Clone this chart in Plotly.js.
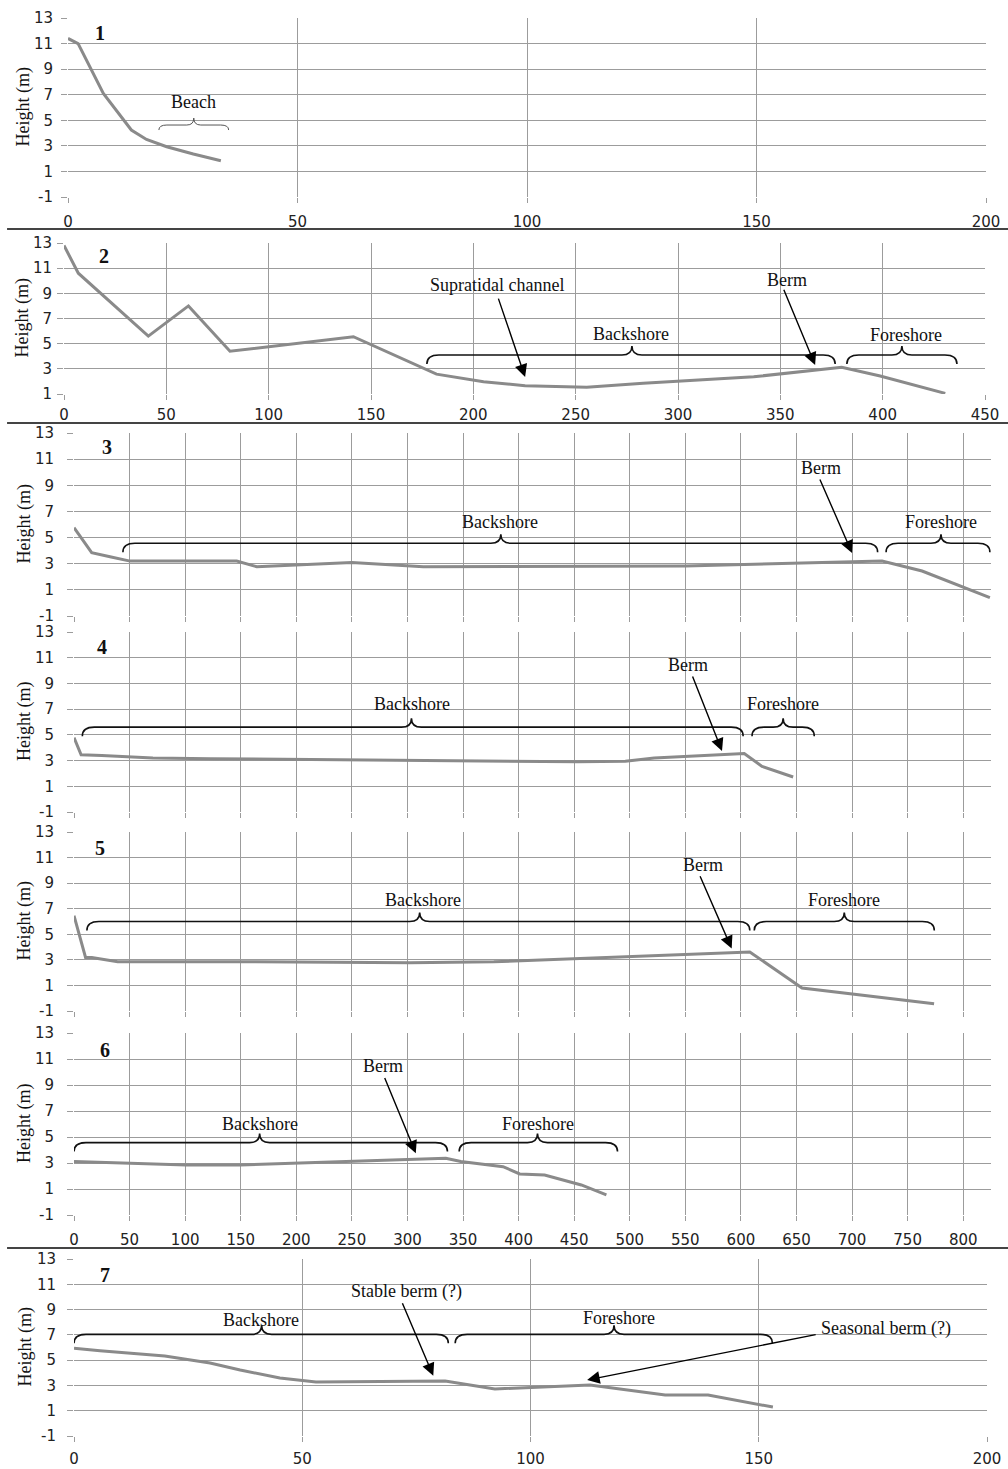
<!DOCTYPE html>
<html><head><meta charset="utf-8">
<script src="https://cdn.plot.ly/plotly-3.0.1.min.js"></script>
<style>html,body{margin:0;padding:0;background:#fff}</style>
</head><body>
<div id="chart" style="width:1008px;height:1469px"></div>
<script>
// ---------- DATA ----------
const p1_x = [0, 2.2, 7.7, 13.8, 17.1, 21.5, 27.3, 33.3];
const p1_y = [11.4, 11.0, 7.1, 4.24, 3.5, 2.93, 2.36, 1.84];

const p2_x = [0, 7, 41.2, 60.8, 81.1, 141.4, 182, 205, 225.3, 255.4, 283, 337, 380, 398.8, 430.6];
const p2_y = [12.8, 10.6, 5.6, 8.0, 4.4, 5.55, 2.58, 1.98, 1.66, 1.53, 1.85, 2.37, 3.12, 2.43, 1.05];

const p3_x = [0, 15.9, 32.4, 50.4, 146.4, 164.4, 249.9, 314.3, 550, 649, 727, 763, 824];
const p3_y = [5.76, 3.84, 3.54, 3.2, 3.2, 2.77, 3.1, 2.77, 2.83, 3.03, 3.2, 2.44, 0.4];

const p4_x = [0, 6.4, 25, 71, 123, 302.5, 453, 496, 522, 603, 619, 647];
const p4_y = [4.78, 3.45, 3.4, 3.2, 3.15, 3.0, 2.9, 2.95, 3.2, 3.55, 2.55, 1.72];

const p5_x = [0, 10.4, 16, 39.3, 163.7, 302.5, 377.7, 452.9, 510.7, 568.5, 600.3, 608, 655, 698.7, 730.5, 773.8];
const p5_y = [6.45, 3.19, 3.19, 2.85, 2.85, 2.78, 2.85, 3.1, 3.31, 3.5, 3.62, 3.62, 0.8, 0.36, 0.03, -0.43];

const p6_x = [0, 47.3, 101, 149.6, 197, 247.7, 334.5, 348, 386, 401, 423.4, 456.4, 479];
const p6_y = [3.11, 2.98, 2.85, 2.85, 2.98, 3.16, 3.37, 3.11, 2.72, 2.16, 2.08, 1.31, 0.54];

const p7_x = [0, 5.7, 19.9, 29.8, 36.4, 45.1, 53, 81.3, 92.2, 113, 129.5, 138.9, 153.1];
const p7_y = [5.95, 5.75, 5.33, 4.77, 4.22, 3.59, 3.27, 3.35, 2.72, 3.03, 2.24, 2.24, 1.29];

// y tick labels (ASCII hyphen for the minus, as in the reference)
const yTicksA = [-1, 1, 3, 5, 7, 9, 11, 13];
const yTicksA_text = ["-1", "1", "3", "5", "7", "9", "11", "13"];
const yTicksB = [1, 3, 5, 7, 9, 11, 13];
const yTicksB_text = ["1", "3", "5", "7", "9", "11", "13"];

const panelLabels = ["1", "2", "3", "4", "5", "6", "7"];
const yTitle = "Height (m)";

// zone labels: [panel, text, x, y]
const zoneTexts = [
  [1, "Beach", 27.3, 6.4],
  [2, "Supratidal channel", 211.6, 9.66],
  [2, "Berm", 353.4, 10.06],
  [2, "Backshore", 277, 5.77],
  [2, "Foreshore", 411.5, 5.69],
  [3, "Backshore", 383, 6.2],
  [3, "Berm", 672, 10.3],
  [3, "Foreshore", 780, 6.2],
  [4, "Backshore", 304, 7.4],
  [4, "Berm", 552, 10.43],
  [4, "Foreshore", 638, 7.4],
  [5, "Backshore", 314, 7.66],
  [5, "Berm", 565.6, 10.43],
  [5, "Foreshore", 693, 7.66],
  [6, "Backshore", 167, 6.0],
  [6, "Berm", 277.6, 10.43],
  [6, "Foreshore", 417, 6.0],
  [7, "Backshore", 41, 8.17],
  [7, "Stable berm (?)", 72.9, 10.41],
  [7, "Foreshore", 119.4, 8.33],
  [7, "Seasonal berm (?)", 177.8, 7.52]
];
// arrows: [panel, tailX, tailY, headX, headY]
const arrows = [
  [2, 212, 8.7, 225.3, 2.35],
  [2, 351.4, 9.4, 367, 3.3],
  [3, 670.5, 9.56, 700, 3.82],
  [4, 556, 9.66, 583, 3.75],
  [5, 562.7, 9.66, 591.7, 3.88],
  [6, 279, 9.66, 307.5, 3.75],
  [7, 71.8, 9.62, 78.7, 3.77],
  [7, 162.8, 7.04, 112.4, 3.43]
];
// braces: [panel, x1, x2, tipX, lineY]
const braces = [
  [1, 19.8, 35, 27.4, 4.63],
  [2, 177.3, 376.8, 277.5, 4.1],
  [2, 382.5, 436.3, 409.4, 4.1],
  [3, 44, 723, 384, 4.56],
  [3, 730.6, 824, 780, 4.56],
  [4, 7.5, 602, 303.6, 5.6],
  [4, 610, 666, 638, 5.6],
  [5, 11.6, 608, 311, 6.0],
  [5, 612, 774, 693, 6.0],
  [6, 0, 336, 167, 4.57],
  [6, 346.5, 489, 417, 4.57],
  [7, 0, 82, 41.1, 7.04],
  [7, 83.5, 153, 118.3, 7.04]
];
// panel-number positions: [panel, x, y]
const numberPos = [[1, 7, 11.8], [2, 19.5, 12.0], [3, 29.7, 11.9], [4, 25, 11.84], [5, 23.7, 11.77], [6, 27.8, 11.7], [7, 6.8, 11.73]];

// ---------- LAYOUT GEOMETRY (pixels) ----------
const W = 1008, H = 1469;
const P = [
  {xpx:[68,986],  ypx:[18,197],    xr:[0,200], yr:[-1,13], dx:50, labels:true,  ystand:5,  xstand:6, tx:23},
  {xpx:[64,985],  ypx:[243,394],   xr:[0,450], yr:[1,13],  dx:50, labels:true,  ystand:2,  xstand:2, tx:22},
  {xpx:[74,991],  ypx:[433,616],   xr:[0,825], yr:[-1,13], dx:50, labels:false, ystand:10, xstand:6, tx:24},
  {xpx:[74,991],  ypx:[632,812],   xr:[0,825], yr:[-1,13], dx:50, labels:false, ystand:10, xstand:6, tx:24},
  {xpx:[74,991],  ypx:[832,1011],  xr:[0,825], yr:[-1,13], dx:50, labels:false, ystand:10, xstand:6, tx:24},
  {xpx:[74,991],  ypx:[1033,1215], xr:[0,825], yr:[-1,13], dx:50, labels:true,  ystand:10, xstand:6, tx:24},
  {xpx:[74,987],  ypx:[1259,1436], xr:[0,200], yr:[-1,13], dx:50, labels:true,  ystand:8,  xstand:4, tx:25}
];
const series = [[p1_x,p1_y],[p2_x,p2_y],[p3_x,p3_y],[p4_x,p4_y],[p5_x,p5_y],[p6_x,p6_y],[p7_x,p7_y]];

const gridC = '#9c9c9c';
const tickFont = {family:'DejaVu Sans, Verdana, sans-serif', size:15, color:'#222'};
const serif = 'Liberation Serif, Times New Roman, serif';

const layout = {
  width: W, height: H, margin:{l:0,r:0,t:0,b:0},
  paper_bgcolor:'#fff', plot_bgcolor:'#fff', showlegend:false,
  shapes:[], annotations:[]
};
const data = [];
function sfx(i){ return i===0 ? '' : String(i+1); }

P.forEach((p,i)=>{
  const s = sfx(i);
  const useB = p.yr[0] === 1;
  layout['xaxis'+s] = {
    domain:[p.xpx[0]/W, p.xpx[1]/W], range:p.xr, anchor:'y'+s,
    tick0:0, dtick:p.dx, showgrid:true, gridcolor:gridC, gridwidth:1,
    zeroline:false, showline:false, ticks:'outside', ticklen:5, tickcolor:gridC,
    showticklabels:p.labels, tickfont:tickFont, ticklabelstandoff:p.xstand, fixedrange:true
  };
  layout['yaxis'+s] = {
    domain:[1-p.ypx[1]/H, 1-p.ypx[0]/H], range:p.yr, anchor:'x'+s,
    tickmode:'array', tickvals: useB ? yTicksB : yTicksA, ticktext: useB ? yTicksB_text : yTicksA_text,
    showgrid:true, gridcolor:gridC, gridwidth:1,
    zeroline:false, showline:false, ticks:'outside', ticklen:6, tickcolor:gridC,
    tickfont:tickFont, ticklabelstandoff:p.ystand, fixedrange:true
  };
  data.push({
    type:'scatter', mode:'lines', x:series[i][0], y:series[i][1],
    xaxis:'x'+s, yaxis:'y'+s, line:{color:'#8a8a8a', width:3}, hoverinfo:'skip'
  });
  layout.annotations.push({
    xref:'paper', yref:'paper', x:p.tx/W, y:1-((p.ypx[0]+p.ypx[1])/2)/H,
    text:yTitle, textangle:-90, showarrow:false, xanchor:'center', yanchor:'middle',
    font:{family:serif, size:18, color:'#111'}
  });
});

numberPos.forEach(([pi,x,y])=>{
  const s = sfx(pi-1);
  layout.annotations.push({xref:'x'+s, yref:'y'+s, x:x, y:y, text:'<b>'+panelLabels[pi-1]+'</b>',
    showarrow:false, font:{family:serif, size:20, color:'#111'}});
});
zoneTexts.forEach(([pi,t,x,y])=>{
  const s = sfx(pi-1);
  layout.annotations.push({xref:'x'+s, yref:'y'+s, x:x, y:y, text:t, showarrow:false,
    font:{family:serif, size:18, color:'#111'}});
});
arrows.forEach(([pi,tx,ty,hx,hy])=>{
  const s = sfx(pi-1);
  layout.annotations.push({xref:'x'+s, yref:'y'+s, axref:'x'+s, ayref:'y'+s,
    x:hx, y:hy, ax:tx, ay:ty, text:'', showarrow:true, arrowhead:2, arrowsize:1.8,
    arrowwidth:1.4, arrowcolor:'#000', standoff:0, startstandoff:0});
});
braces.forEach(([pi,x1,x2,xm,yl])=>{
  const p = P[pi-1], s = sfx(pi-1);
  const kx = (p.xpx[1]-p.xpx[0])/(p.xr[1]-p.xr[0]);
  const ky = (p.ypx[1]-p.ypx[0])/(p.yr[1]-p.yr[0]);
  const small = pi===1;
  const w = (small?8:12)/kx, dy = (small?5:9)/ky, tw = (small?7:10)/kx, th = (small?7:9)/ky;
  const path = `M ${x1},${yl-dy} Q ${x1},${yl} ${x1+w},${yl} L ${xm-tw},${yl} Q ${xm},${yl} ${xm},${yl+th} `+
               `Q ${xm},${yl} ${xm+tw},${yl} L ${x2-w},${yl} Q ${x2},${yl} ${x2},${yl-dy}`;
  layout.shapes.push({type:'path', xref:'x'+s, yref:'y'+s, path:path,
    line:{color: small?'#555':'#111', width: small?1:1.6}});
});
// panel separators
[229, 423, 1248].forEach(py=>{
  layout.shapes.push({type:'line', xref:'paper', yref:'paper', x0:0.007, x1:1, y0:1-py/H, y1:1-py/H,
    line:{color:'#444', width:2}});
});

Plotly.newPlot('chart', data, layout, {staticPlot:true, displayModeBar:false});
</script>
</body></html>
